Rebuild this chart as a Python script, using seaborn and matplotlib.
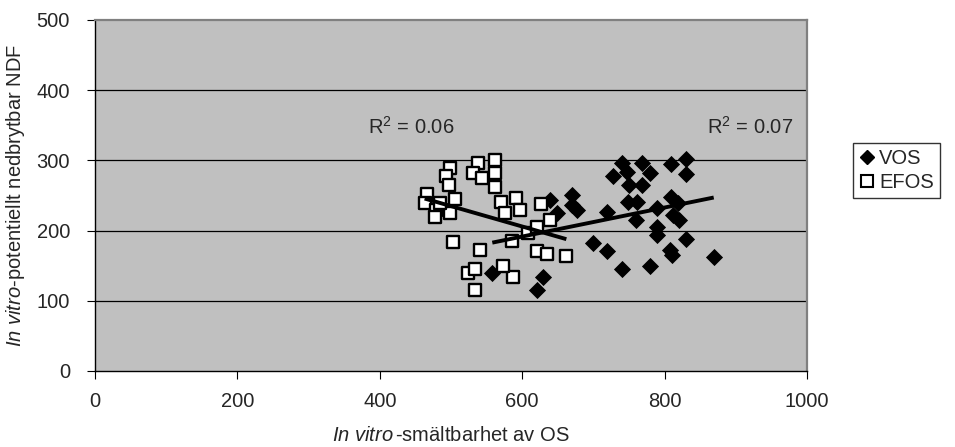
import pandas as pd
import matplotlib.pyplot as plt
import numpy as np
from matplotlib.lines import Line2D
import seaborn as sns

# values
vos_x = [558, 621, 629, 639, 649, 670, 670, 677, 699, 719, 719, 740, 779, 808, 810, 830, 869,
         728, 740, 747, 750, 768, 779, 768, 809, 830, 830, 749, 761, 760, 789, 809, 819, 812,
         820, 789, 789]
vos_y = [140, 115, 134, 244, 225, 251, 236, 229, 182, 171, 226, 145, 150, 172, 165, 188, 162,
         278, 296, 283, 265, 296, 282, 265, 295, 302, 281, 241, 241, 215, 232, 248, 239, 222,
         215, 205, 194]
efos_x = [466, 463, 479, 499, 506, 478, 485, 499, 493, 497, 538, 531, 544, 562, 562, 562, 570,
          591, 576, 597, 503, 541, 586, 524, 534, 534, 587, 573, 621, 635, 662, 608, 639, 621, 626]
efos_y = [252, 239, 229, 225, 245, 219, 239, 289, 278, 265, 296, 282, 275, 301, 282, 262, 241,
          246, 225, 229, 184, 172, 185, 140, 145, 115, 134, 150, 171, 167, 164, 197, 215, 205, 238]
r2_labels = [r"R$^{2}$ = 0.06", r"R$^{2}$ = 0.07"]
x_ticks = [0, 200, 400, 600, 800, 1000]
y_ticks = [0, 100, 200, 300, 400, 500]

df = pd.concat([
    pd.DataFrame({"x": vos_x, "y": vos_y, "grupp": "VOS"}),
    pd.DataFrame({"x": efos_x, "y": efos_y, "grupp": "EFOS"}),
], ignore_index=True)

sns.set_style("white")
plt.rcParams['font.family'] = ['Liberation Sans', 'DejaVu Sans']
plt.rcParams['mathtext.fontset'] = 'custom'
plt.rcParams['mathtext.rm'] = 'Liberation Sans'
plt.rcParams['mathtext.it'] = 'Liberation Sans:italic'

FS = 14.5

fig = plt.figure(figsize=(9.55, 4.47), dpi=100)
ax = fig.add_axes([95/955, 1 - 371/447, 712/955, 351/447])
ax.set_facecolor("#c0c0c0")

for y in y_ticks[1:-1]:
    ax.axhline(y, color="black", lw=0.9, zorder=0)

sns.scatterplot(data=df[df.grupp == "VOS"], x="x", y="y", marker="D", color="black",
                edgecolor="black", linewidth=0.6, s=66, ax=ax, zorder=2, legend=False)
sns.scatterplot(data=df[df.grupp == "EFOS"], x="x", y="y", marker="s", color="white",
                edgecolor="black", linewidth=1.7, s=72, ax=ax, zorder=3, legend=False)

for g in ["VOS", "EFOS"]:
    sns.regplot(data=df[df.grupp == g], x="x", y="y", scatter=False, ci=None, truncate=True,
                color="black", line_kws={"lw": 2.8, "zorder": 4, "solid_capstyle": "butt"}, ax=ax)

ax.text(383, 348, r2_labels[0], fontsize=FS, va="center", ha="left")
ax.text(860, 348, r2_labels[1], fontsize=FS, va="center", ha="left")

ax.set_xlim(0, 1000)
ax.set_ylim(0, 500)
ax.set_xticks(x_ticks)
ax.set_yticks(y_ticks)
ax.tick_params(axis="both", labelsize=FS, direction="out", length=6, width=0.8, color="black")
ax.tick_params(axis="y", pad=12)
ax.tick_params(axis="x", pad=9)
ax.xaxis.set_ticks_position("bottom")
ax.yaxis.set_ticks_position("left")
for s in ["left", "bottom"]:
    ax.spines[s].set_color("black")
    ax.spines[s].set_linewidth(1.0)
for s in ["top", "right"]:
    ax.spines[s].set_color("#808080")
    ax.spines[s].set_linewidth(1.6)

ax.set_xlabel(r"$\it{In\ vitro}\,$-smältbarhet av OS", fontsize=FS, labelpad=11)
ax.set_ylabel(r"$\it{In\ vitro}$-potentiellt nedbrytbar NDF", fontsize=FS, labelpad=7)

handles = [
    Line2D([], [], marker="D", color="black", ls="none", markersize=7.5),
    Line2D([], [], marker="s", markerfacecolor="white", markeredgecolor="black",
           markeredgewidth=1.5, ls="none", markersize=9),
]
fig.legend(handles, ["VOS", "EFOS"], loc="upper left", bbox_to_anchor=(853/955, 1 - 143/447),
           frameon=True, fancybox=False, edgecolor="black", fontsize=FS,
           handlelength=0.8, handletextpad=0.2, borderpad=0.3, labelspacing=0.25,
           borderaxespad=0)

plt.savefig("out.png", dpi=100)
